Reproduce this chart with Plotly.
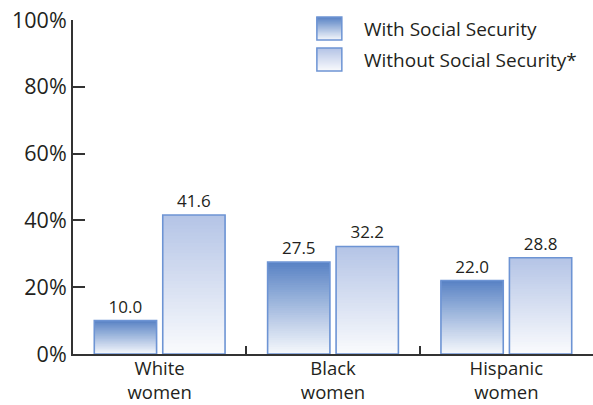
import plotly.graph_objects as go

categories = ["White<br>women", "Black<br>women", "Hispanic<br>women"]
with_ss = [10.0, 27.5, 22.0]
without_ss = [41.6, 32.2, 28.8]
series_names = ["With Social Security", "Without Social Security*"]
y_ticks = [0, 20, 40, 60, 80, 100]

FONT = "Open Sans"
TXT = "#231f20"
EDGE = "#6d94d4"
N = 40

def lerp(c1, c2, t):
    return "rgb(%d,%d,%d)" % tuple(round(a + (b - a) * t) for a, b in zip(c1, c2))

styles = [
    ((88, 130, 196), (246, 248, 252)),   # with: top dark -> bottom light
    ((180, 196, 230), (250, 251, 253)),  # without
]

fig = go.Figure()
for s, (vals, (top, bot)) in enumerate(zip([with_ss, without_ss], styles)):
    og = "g%d" % s
    for i in range(N):
        t = (i + 0.5) / N  # 0 bottom -> 1 top
        fig.add_bar(
            x=categories, y=[v * (N - i) / N for v in vals],
            base=[v * i / N for v in vals],
            offsetgroup=og, marker=dict(color=lerp(bot, top, t), line=dict(width=0)),
            showlegend=False, hoverinfo="skip",
        )
    fig.add_bar(
        x=categories, y=vals, base=[0] * len(vals), offsetgroup=og,
        marker=dict(color="rgba(0,0,0,0)", line=dict(color=EDGE, width=1.6)),
        text=["%.1f" % v for v in vals], textposition="outside",
        textfont=dict(family=FONT, size=17, color=TXT), cliponaxis=False,
        showlegend=False, name=series_names[s],
    )

# manual legend
shapes = []
annotations = []
leg_y = [(1.009, 0.940), (0.916, 0.847)]
for s, ((top, bot), (y1, y0)) in enumerate(zip(styles, leg_y)):
    M = 20
    for i in range(M):
        t = (i + 0.5) / M
        shapes.append(dict(type="rect", xref="paper", yref="paper",
                           x0=0.469, x1=0.517,
                           y0=y0 + (y1 - y0) * i / M, y1=y1,
                           fillcolor=lerp(bot, top, t), line=dict(width=0), layer="above"))
    shapes.append(dict(type="rect", xref="paper", yref="paper", x0=0.469, x1=0.517,
                       y0=y0, y1=y1, fillcolor="rgba(0,0,0,0)",
                       line=dict(color=EDGE, width=1.5), layer="above"))
    annotations.append(dict(xref="paper", yref="paper", x=0.556, y=(y0 + y1) / 2,
                            xanchor="left", yanchor="middle", showarrow=False,
                            text=series_names[s], font=dict(family=FONT, size=19, color=TXT)))

fig.update_layout(
    width=593, height=405,
    margin=dict(l=73, r=0, t=20, b=51, autoexpand=False),
    paper_bgcolor="white", plot_bgcolor="white",
    barmode="group", bargap=0.21, bargroupgap=0.09,
    showlegend=False,
    shapes=shapes, annotations=annotations,
    font=dict(family=FONT, color=TXT),
    xaxis=dict(showline=True, linecolor="#333", linewidth=2, ticks="inside",
               tickson="boundaries", ticklen=8, tickcolor="#333", tickwidth=1.5,
               automargin=False, ticklabelstandoff=-3,
               tickfont=dict(family=FONT, size=18.5, color=TXT), showgrid=False),
    yaxis=dict(range=[0, 100], tickvals=y_ticks, ticktext=["%d%%" % v for v in y_ticks],
               showline=True, linecolor="#333", linewidth=2, ticks="inside",
               ticklen=12, tickcolor="#333", tickwidth=1.5, showgrid=False,
               automargin=False,
               zeroline=False, tickfont=dict(family=FONT, size=21.5, color=TXT)),
)

fig.write_html("out.html")
